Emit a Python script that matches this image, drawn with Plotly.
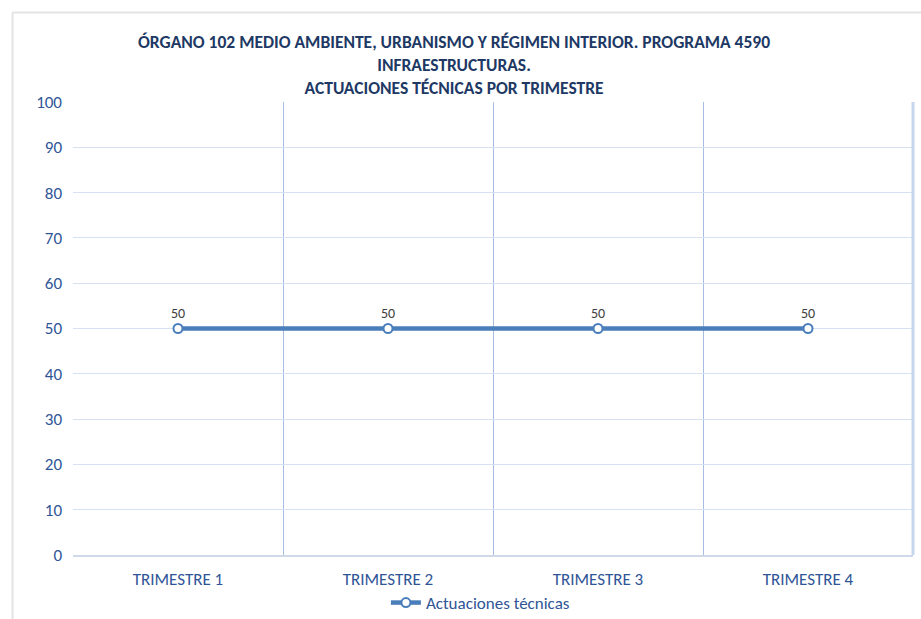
import plotly.graph_objects as go

categories = ["TRIMESTRE 1", "TRIMESTRE 2", "TRIMESTRE 3", "TRIMESTRE 4"]
actuaciones = [50, 50, 50, 50]
series_name = "Actuaciones técnicas"
title_lines = [
    "ÓRGANO 102 MEDIO AMBIENTE, URBANISMO Y RÉGIMEN INTERIOR. PROGRAMA 4590",
    "INFRAESTRUCTURAS.",
    "ACTUACIONES TÉCNICAS POR TRIMESTRE",
]

FONT = "Carlito, Calibri, 'Liberation Sans Narrow', Lato, sans-serif"
AXIS_COLOR = "#2F5597"
LINE_COLOR = "#4A7EBB"

fig = go.Figure()
fig.add_trace(go.Scatter(
    x=categories,
    y=actuaciones,
    name=series_name,
    mode="lines+markers+text",
    line=dict(color=LINE_COLOR, width=4.5),
    marker=dict(symbol="circle", size=9, color="white",
                line=dict(color=LINE_COLOR, width=2)),
    text=[str(v) for v in actuaciones],
    textposition="top center",
    textfont=dict(family=FONT, size=14, color="#404040"),
    cliponaxis=False,
))

fig.update_layout(
    width=921, height=619,
    margin=dict(l=73, r=8, t=102, b=64, autoexpand=False),
    paper_bgcolor="white",
    plot_bgcolor="white",
    font=dict(family=FONT),
    showlegend=True,
    legend=dict(orientation="h", x=0.485, xanchor="center",
                yref="container", y=(619 - 603) / 619, yanchor="middle",
                font=dict(family=FONT, size=17, color=AXIS_COLOR),
                itemwidth=30, bgcolor="rgba(0,0,0,0)"),
    annotations=[
        dict(text="<br>".join(f"<b>{t}</b>" for t in title_lines),
             xref="paper", yref="paper",
             x=(454 - 73) / 840, y=(555 - 29) / 453, xanchor="center", yanchor="top",
             showarrow=False, align="center",
             font=dict(family=FONT, size=17.5, color="#203864"),
             )
    ],
    shapes=[
        dict(type="line", xref="paper", yref="paper",
             x0=(12.5 - 73) / 840, x1=(12.5 - 73) / 840, y0=-1, y1=(555 - 12.5) / 453,
             line=dict(color="#E4E4E4", width=2)),
        dict(type="line", xref="paper", yref="paper",
             x0=(12.5 - 73) / 840, x1=2, y0=(555 - 12.5) / 453, y1=(555 - 12.5) / 453,
             line=dict(color="#E4E4E4", width=2)),
        dict(type="line", xref="paper", yref="paper",
             x0=1, x1=1, y0=0, y1=1,
             line=dict(color="#C5D6EE", width=3)),
    ],
)

fig.update_xaxes(
    type="category",
    tickson="boundaries",
    showgrid=True, gridcolor="#A7BDE3", gridwidth=1,
    showline=True, linecolor="#CFD9EA", linewidth=1.5,
    ticks="", automargin=False, ticklabelstandoff=8,
    tickfont=dict(family=FONT, size=17, color=AXIS_COLOR),
    range=[-0.5, 3.5],
    fixedrange=True,
)
fig.update_yaxes(
    range=[0, 100], dtick=10,
    showgrid=True, gridcolor="#D6E2F3", gridwidth=1,
    zeroline=False, showline=False,
    ticks="", ticklabelstandoff=10, automargin=False,
    tickfont=dict(family=FONT, size=17, color=AXIS_COLOR),
    fixedrange=True,
)

fig.write_html("out.html")
